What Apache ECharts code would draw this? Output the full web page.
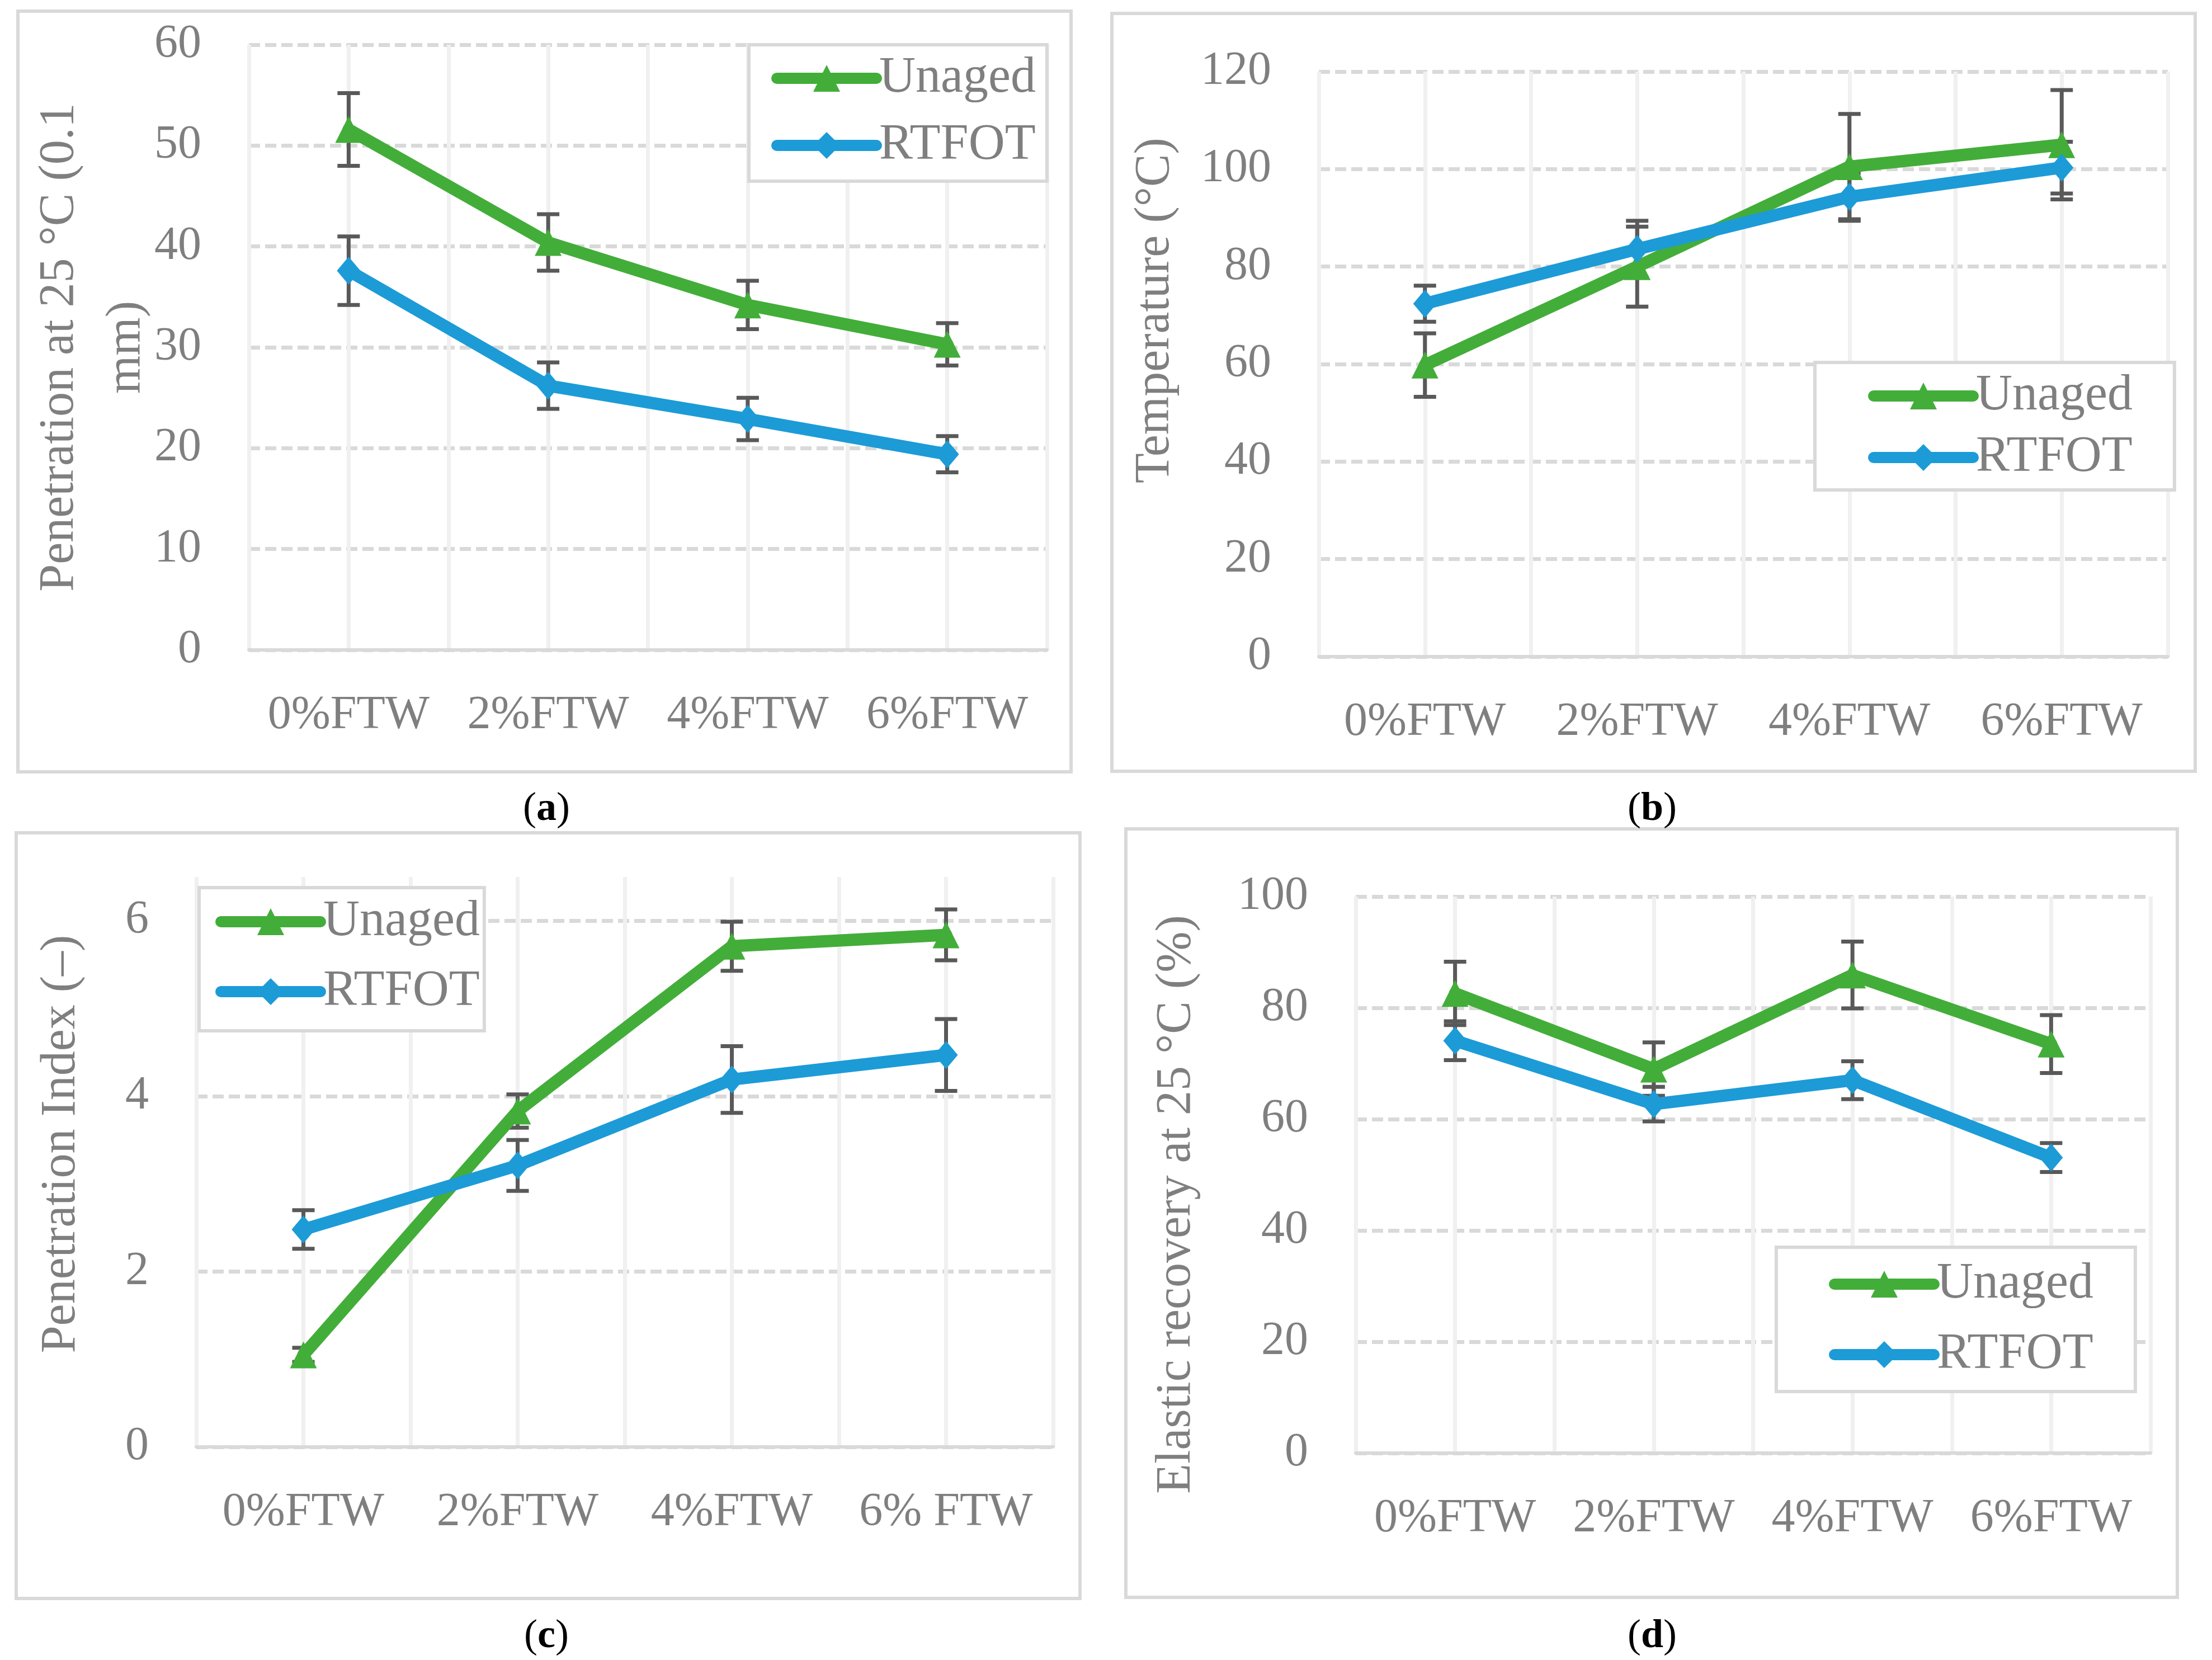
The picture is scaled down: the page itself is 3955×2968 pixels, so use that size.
<!DOCTYPE html>
<html>
<head>
<meta charset="utf-8">
<script src="https://cdn.jsdelivr.net/npm/echarts@6/dist/echarts.min.js"></script>
<style>
html,body{margin:0;padding:0;background:#fff;}
#chart{width:3955px;height:2968px;}
</style>
</head>
<body>
<div id="chart"></div>
<script>
// ---------------- data ----------------
const catsABD = ['0%FTW', '2%FTW', '4%FTW', '6%FTW'];
const catsC = ['0%FTW', '2%FTW', '4%FTW', '6% FTW'];
const seriesNames = ['Unaged', 'RTFOT'];

// (a) Penetration at 25 °C (0.1 mm)
const aUnaged = [51.6, 40.4, 34.2, 30.3];
const aUnagedErr = [3.6, 2.8, 2.4, 2.1];
const aRtfot = [37.6, 26.2, 22.9, 19.4];
const aRtfotErr = [3.4, 2.3, 2.1, 1.8];

// (b) Temperature (°C)
const bUnaged = [59.8, 80.0, 100.5, 105.0];
const bUnagedErr = [6.5, 8.2, 10.8, 11.2];
const bRtfot = [72.4, 83.6, 94.3, 100.3];
const bRtfotErr = [3.7, 5.8, 4.9, 5.3];

// (c) Penetration Index (–)
const cUnaged = [1.05, 3.83, 5.71, 5.84];
const cUnagedErr = [0.08, 0.19, 0.28, 0.29];
const cRtfot = [2.48, 3.21, 4.19, 4.47];
const cRtfotErr = [0.22, 0.29, 0.38, 0.41];

// (d) Elastic recovery at 25 °C (%)
const dUnaged = [82.6, 69.0, 85.9, 73.5];
const dUnagedErr = [5.7, 4.8, 6.0, 5.2];
const dRtfot = [74.1, 62.7, 67.0, 53.1];
const dRtfotErr = [3.5, 3.1, 3.4, 2.6];

// axis ranges / tick steps
const yAxesRange = [
  {min: 0, max: 60, interval: 10},
  {min: 0, max: 120, interval: 20},
  {min: 0, max: 6.5, interval: 2},
  {min: 0, max: 100, interval: 20}
];
const yNames = ['Penetration at 25 °C (0.1\nmm)', 'Temperature (°C)', 'Penetration Index (–)', 'Elastic recovery at 25 °C (%)'];
const captions = ['a', 'b', 'c', 'd'];

// ---------------- styles ----------------
const FONT = 'Liberation Serif';
const TXT = '#7f7f7f';
const GREEN = '#43ad3a';
const BLUE = '#1c9bd7';
const ERRC = '#595959';

const grids = [
  {left: 445, top: 80, width: 1427, height: 1082},
  {left: 2358, top: 128, width: 1518, height: 1046},
  {left: 351, top: 1568, width: 1532, height: 1019},
  {left: 2424, top: 1603, width: 1421, height: 995}
];
const nameGaps = [158, 232, 181, 260];
const namePads = [[0, 0, 0, 0], [0, 0, 0, 192], [0, 0, 0, 64], [0, 106, 0, 0]];
const legendPos = [
  {left: 1339, top: 80, padding: [15, 20, 19, 40], itemGap: 30},
  {left: 3245, top: 648, padding: [15, 75, 13, 95], itemGap: 20},
  {left: 356, top: 1587, padding: [16, 8, 25, 29], itemGap: 35},
  {left: 3176, top: 2230, padding: [21, 75, 21, 94], itemGap: 36}
];
const borders = [
  [32, 20, 1883, 1360],
  [1988, 24, 1937, 1355],
  [29, 1489, 1902, 1369],
  [2013, 1482, 1880, 1374]
];
const captionPos = [[977, 1447], [2954, 1447], [977, 2926], [2954, 2926]];

function errRender(params, api) {
  const x = api.value(0), lo = api.value(1), hi = api.value(2);
  const pLo = api.coord([x, lo]);
  const pHi = api.coord([x, hi]);
  const hw = 20;
  const st = {stroke: ERRC, lineWidth: 7, fill: null};
  return {
    type: 'group',
    children: [
      {type: 'line', shape: {x1: pLo[0], y1: pLo[1], x2: pHi[0], y2: pHi[1]}, style: st},
      {type: 'line', shape: {x1: pLo[0] - hw, y1: pLo[1], x2: pLo[0] + hw, y2: pLo[1]}, style: st},
      {type: 'line', shape: {x1: pHi[0] - hw, y1: pHi[1], x2: pHi[0] + hw, y2: pHi[1]}, style: st}
    ]
  };
}

const panels = [
  {cats: catsABD, u: aUnaged, ue: aUnagedErr, r: aRtfot, re: aRtfotErr},
  {cats: catsABD, u: bUnaged, ue: bUnagedErr, r: bRtfot, re: bRtfotErr},
  {cats: catsC, u: cUnaged, ue: cUnagedErr, r: cRtfot, re: cRtfotErr},
  {cats: catsABD, u: dUnaged, ue: dUnagedErr, r: dRtfot, re: dRtfotErr}
];

const option = {
  backgroundColor: '#ffffff',
  animation: false,
  grid: [], xAxis: [], yAxis: [], series: [], legend: [], graphic: []
};

panels.forEach((p, k) => {
  option.grid.push(Object.assign({outerBoundsMode: 'none', containLabel: false}, grids[k]));
  option.xAxis.push({
    type: 'value', gridIndex: k, min: -0.5, max: 3.5, interval: 0.5,
    axisLine: {show: true, onZero: true, lineStyle: {color: '#d9d9d9', width: 6}},
    axisTick: {show: false},
    axisLabel: {
      show: true, margin: 76, color: TXT, fontFamily: FONT, fontSize: 84, lineHeight: 84,
      showMinLabel: true, showMaxLabel: true,
      formatter: (v) => {
        const i = Math.round(v);
        return Math.abs(v - i) < 1e-6 && i >= 0 && i < p.cats.length ? p.cats[i] : '';
      }
    },
    splitLine: {show: true, lineStyle: {color: '#f0f0f0', width: 7, type: 'solid'}}
  });
  const yr = yAxesRange[k];
  option.yAxis.push({
    type: 'value', gridIndex: k, min: yr.min, max: yr.max, interval: yr.interval,
    name: yNames[k], nameLocation: 'middle', nameGap: nameGaps[k], nameRotate: 90,
    nameMoveOverlap: false,
    nameTextStyle: {color: TXT, fontFamily: FONT, fontSize: 88, lineHeight: 120, padding: namePads[k]},
    axisLine: {show: false},
    axisTick: {show: false},
    axisLabel: {
      color: TXT, fontFamily: FONT, fontSize: 84, margin: 85,
      formatter: (v) => (Math.abs(v % yr.interval) < 1e-9 ? String(v) : '')
    },
    splitLine: {show: true, showMaxLine: k !== 2, lineStyle: {color: '#d9d9d9', width: 7, type: [20, 9]}}
  });
  const defs = [
    {name: 'Unaged', vals: p.u, err: p.ue, color: GREEN, symbol: 'triangle', size: 48},
    {name: 'RTFOT', vals: p.r, err: p.re, color: BLUE, symbol: 'diamond', size: [42, 50]}
  ];
  defs.forEach((d) => {
    option.series.push({
      name: d.name + ' error', type: 'custom', xAxisIndex: k, yAxisIndex: k, z: 2,
      renderItem: errRender,
      encode: {x: 0, y: [1, 2]},
      data: d.vals.map((v, i) => [i, +(v - d.err[i]).toFixed(3), +(v + d.err[i]).toFixed(3)]),
      silent: true
    });
  });
  defs.forEach((d, j) => {
    option.series.push({
      name: d.name, type: 'line', xAxisIndex: k, yAxisIndex: k, z: 3 + j,
      data: d.vals.map((v, i) => [i, v]),
      symbol: d.symbol, symbolSize: d.size, showSymbol: true,
      itemStyle: {color: d.color},
      lineStyle: {color: d.color, width: 22, cap: 'round', join: 'round'}
    });
  });
  option.legend.push(Object.assign({
    orient: 'vertical', data: seriesNames, itemWidth: 178, itemHeight: 60,
    borderColor: '#d9d9d9', borderWidth: 6, borderRadius: 0, backgroundColor: '#ffffff',
    lineStyle: {width: 20, cap: 'round'},
    textStyle: {color: TXT, fontFamily: FONT, fontSize: 90},
    selectedMode: false, z: 10
  }, legendPos[k]));
  const b = borders[k];
  option.graphic.push({
    type: 'rect', z: -10, silent: true,
    shape: {x: b[0], y: b[1], width: b[2], height: b[3]},
    style: {fill: 'none', stroke: '#d9d9d9', lineWidth: 6}
  });
  const c = captionPos[k];
  option.graphic.push({
    type: 'text', x: c[0], y: c[1], silent: true,
    style: {
      text: '{n|(}{b|' + captions[k] + '}{n|)}',
      align: 'center', verticalAlign: 'middle',
      rich: {
        n: {fontFamily: FONT, fontSize: 72, fill: '#000', color: '#000'},
        b: {fontFamily: FONT, fontSize: 72, fontWeight: 'bold', fill: '#000', color: '#000'}
      }
    }
  });
});

const chart = echarts.init(document.getElementById('chart'), null, {renderer: 'canvas', width: 3955, height: 2968});
chart.setOption(option);
</script>
</body>
</html>
